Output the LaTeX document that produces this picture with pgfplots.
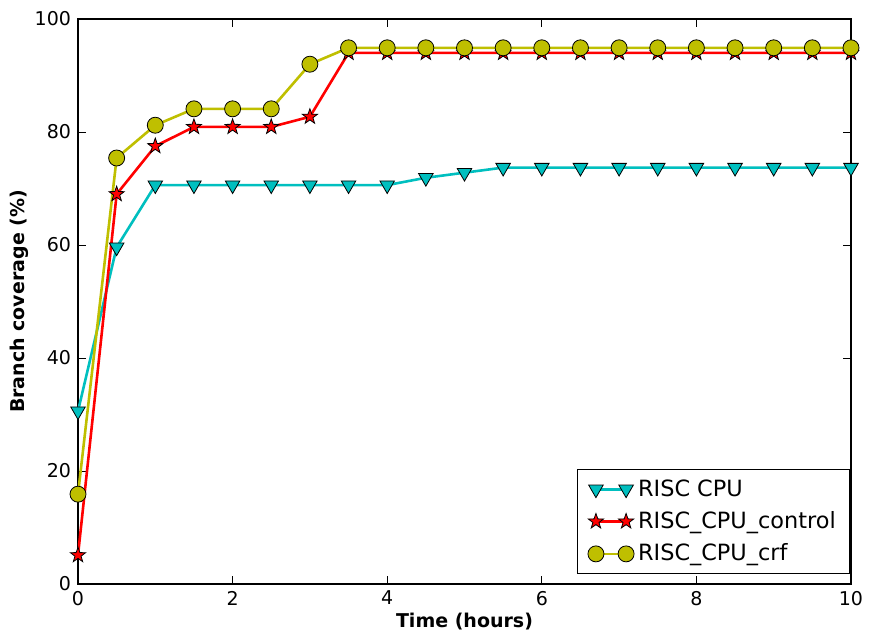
\documentclass[border=0pt]{standalone}
\usepackage{pgfplots}
\pgfplotsset{compat=1.18}
\usepackage{fontspec}
\setmainfont{DejaVu Sans}
\usetikzlibrary{plotmarks}
\definecolor{mcyan}{rgb}{0,0.75,0.75}
\definecolor{myellow}{rgb}{0.75,0.75,0}
\pgfdeclareplotmark{fstar}{%
  \pgfpathmoveto{\pgfpointpolar{90}{\pgfplotmarksize}}%
  \pgfpathlineto{\pgfpointpolar{126}{0.4\pgfplotmarksize}}%
  \pgfpathlineto{\pgfpointpolar{162}{\pgfplotmarksize}}%
  \pgfpathlineto{\pgfpointpolar{198}{0.4\pgfplotmarksize}}%
  \pgfpathlineto{\pgfpointpolar{234}{\pgfplotmarksize}}%
  \pgfpathlineto{\pgfpointpolar{270}{0.4\pgfplotmarksize}}%
  \pgfpathlineto{\pgfpointpolar{306}{\pgfplotmarksize}}%
  \pgfpathlineto{\pgfpointpolar{342}{0.4\pgfplotmarksize}}%
  \pgfpathlineto{\pgfpointpolar{18}{\pgfplotmarksize}}%
  \pgfpathlineto{\pgfpointpolar{54}{0.4\pgfplotmarksize}}%
  \pgfpathclose\pgfusepathqfillstroke}
\begin{document}
\begin{tikzpicture}
\useasboundingbox (-39pt,-27.5pt) rectangle (395.5pt,292pt);
\begin{axis}[
  at={(0,0)}, anchor=south west,
  scale only axis, width=386.5pt, height=282.5pt,
  xmin=0, xmax=10, ymin=0, ymax=100,
  xtick={0,2,...,10}, ytick={0,20,...,100},
  tick align=inside, tick pos=both,
  major tick length=4pt,
  axis line style={line width=0.6pt},
  every tick/.style={black, line width=0.5pt},
  tick label style={font=\fontsize{9.5}{11}\selectfont},
  /pgf/number format/assume math mode=true,
  xlabel={\textbf{Time (hours)}},
  ylabel={\textbf{Branch coverage (\%)}},
  label style={font=\fontsize{9.5}{11}\selectfont},
  xlabel style={yshift=3pt},
  ylabel style={yshift=-4pt},
  legend style={at={(0.999,0.017)}, anchor=south east, draw=black, line width=0.5pt,
    font=\fontsize{11.2}{13}\selectfont, row sep=2.2pt, inner xsep=5pt, inner ysep=3pt,
    /tikz/every even column/.append style={column sep=9pt}},
  legend cell align=left,
  legend image code/.code={\draw[#1] plot coordinates {(0cm,0cm) (0.53cm,0cm)};},
]
\addplot[mcyan, line width=1.3pt, mark=triangle*, mark size=4.2pt,
  mark options={fill=mcyan, draw=black, line width=0.4pt, rotate=180}]
  coordinates {(0,30.6)(0.5,59.6)(1,70.6)(1.5,70.6)(2,70.6)(2.5,70.6)(3,70.6)(3.5,70.6)(4,70.6)(4.5,71.9)(5,72.8)(5.5,73.7)(6,73.7)(6.5,73.7)(7,73.7)(7.5,73.7)(8,73.7)(8.5,73.7)(9,73.7)(9.5,73.7)(10,73.7)};
\addlegendentry{RISC CPU}
\addplot[red, line width=1.3pt, mark=fstar, mark size=4pt,
  mark options={fill=red, draw=black, line width=0.4pt}]
  coordinates {(0,5.1)(0.5,69.0)(1,77.5)(1.5,80.9)(2,80.9)(2.5,80.9)(3,82.7)(3.5,94.0)(4,94.0)(4.5,94.0)(5,94.0)(5.5,94.0)(6,94.0)(6.5,94.0)(7,94.0)(7.5,94.0)(8,94.0)(8.5,94.0)(9,94.0)(9.5,94.0)(10,94.0)};
\addlegendentry{RISC\_CPU\_control}
\addplot[myellow, line width=1.3pt, mark=*, mark size=4pt,
  mark options={fill=myellow, draw=black, line width=0.4pt}]
  coordinates {(0,15.9)(0.5,75.4)(1,81.2)(1.5,84.1)(2,84.1)(2.5,84.1)(3,92.0)(3.5,94.9)(4,94.9)(4.5,94.9)(5,94.9)(5.5,94.9)(6,94.9)(6.5,94.9)(7,94.9)(7.5,94.9)(8,94.9)(8.5,94.9)(9,94.9)(9.5,94.9)(10,94.9)};
\addlegendentry{RISC\_CPU\_crf}
\end{axis}
\end{tikzpicture}
\end{document}
